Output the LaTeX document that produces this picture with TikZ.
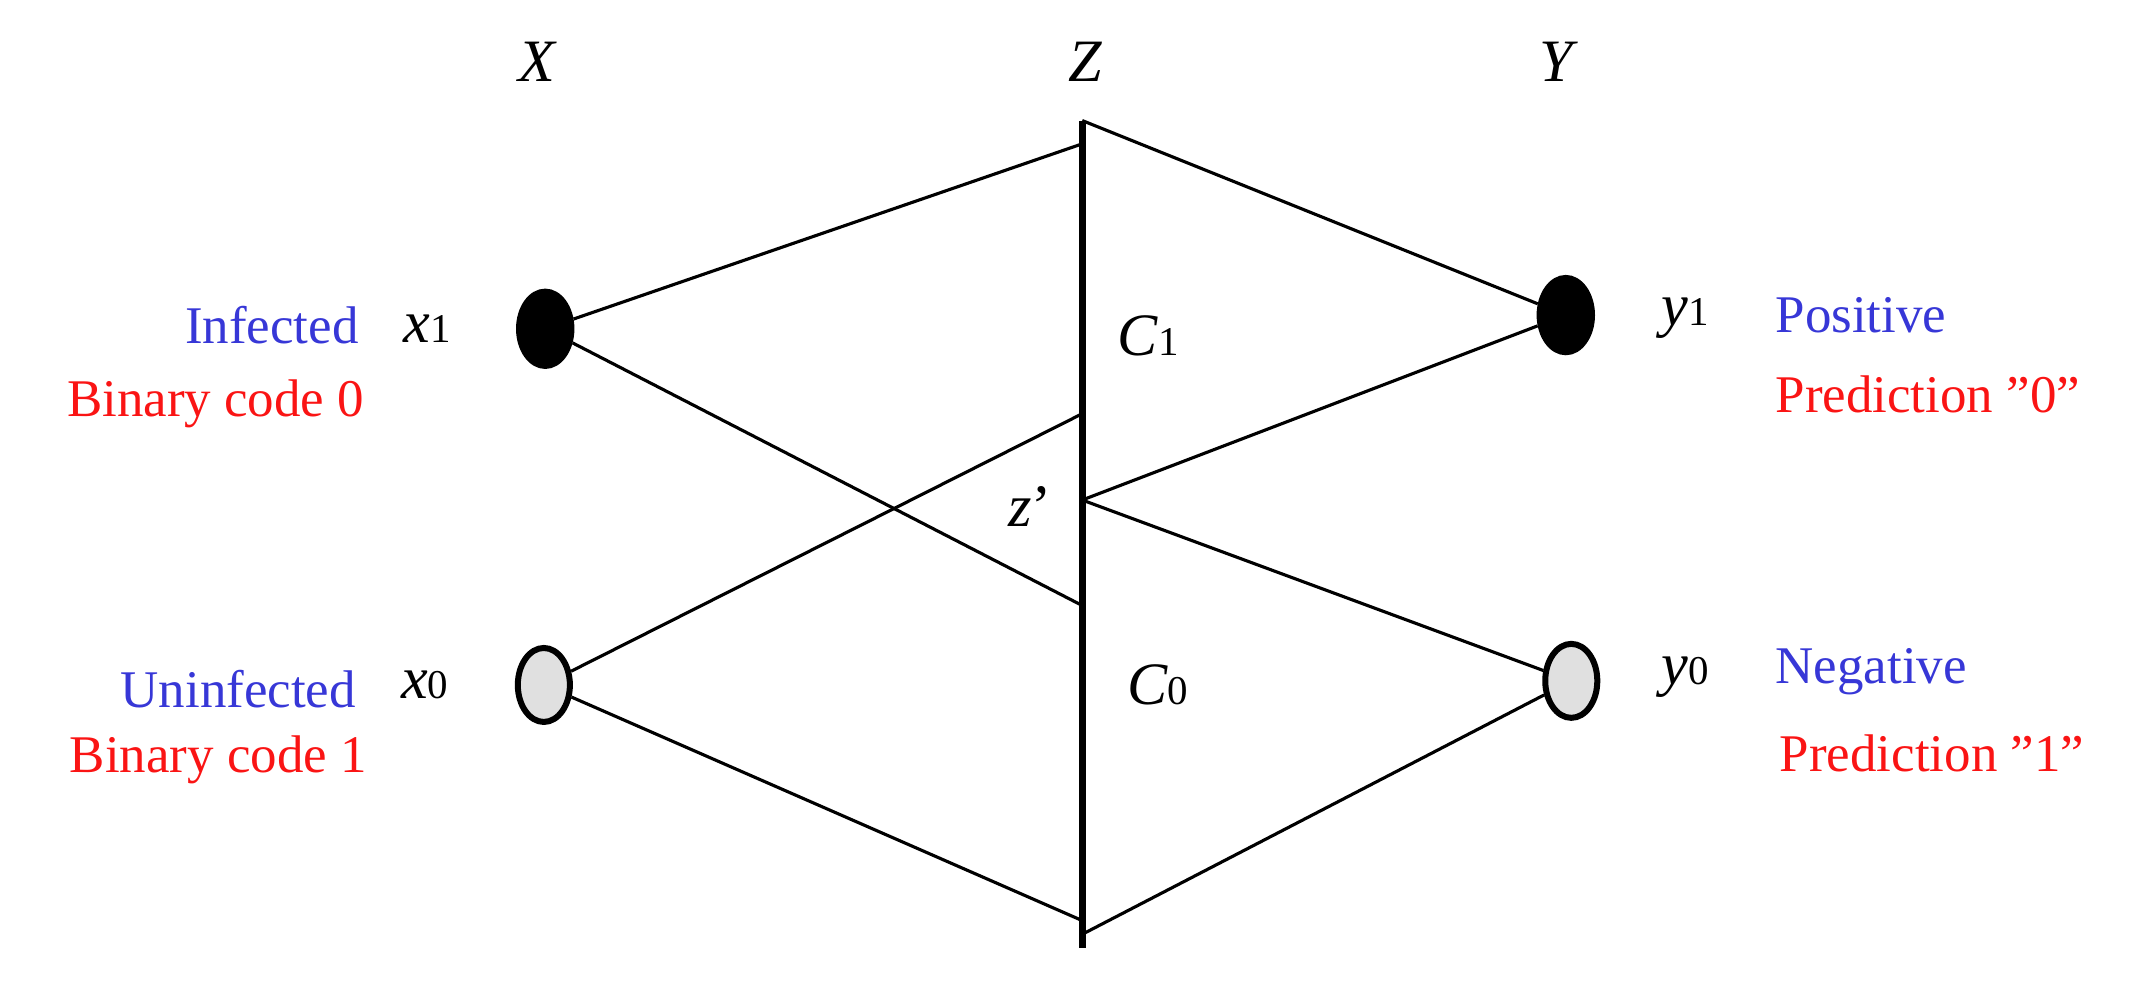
\documentclass[tikz,border=0pt]{standalone}
\usepackage{fontspec}
\setmainfont{Liberation Serif}
\usetikzlibrary{shapes.geometric}
\definecolor{lblue}{RGB}{55,55,215}
\definecolor{lred}{RGB}{250,20,20}
\begin{document}
\begin{tikzpicture}[x=0.02cm,y=-0.02cm,
  ln/.style={line width=1.3pt},
  blk/.style={draw,line width=1.5pt,fill=black,ellipse,minimum width=40*0.02cm,minimum height=56*0.02cm,inner sep=0pt},
  gry/.style={draw,line width=2.5pt,fill=black!12,ellipse,minimum width=38*0.02cm,minimum height=54*0.02cm,inner sep=0pt},
  var/.style={font=\fontsize{25}{27}\selectfont\itshape},
  bl/.style={font=\fontsize{22}{24}\selectfont,text=lblue},
  rd/.style={font=\fontsize{22}{24}\selectfont,text=lred}]
\useasboundingbox (0,0) rectangle (1568,724);
\node[blk] (x1) at (398,240) {};
\node[gry] (x0) at (397,500) {};
\node[blk] (y1) at (1143,230) {};
\node[gry] (y0) at (1147,497) {};
\coordinate (ztop) at (790,88);
\coordinate (zbot) at (790,692);
\coordinate (za) at (790,105);
\coordinate (zb) at (790,442);
\coordinate (zc) at (790,302);
\coordinate (zd) at (790,672);
\coordinate (zp) at (790,365);
\coordinate (ze) at (790,682);
\draw[line width=3pt] (ztop) -- (zbot);
\draw[ln] (x1) -- (za);
\draw[ln] (x1) -- (zb);
\draw[ln] (x0) -- (zc);
\draw[ln] (x0) -- (zd);
\draw[ln] (ztop) -- (y1);
\draw[ln] (zp) -- (y1);
\draw[ln] (zp) -- (y0);
\draw[ln] (ze) -- (y0);
\node[var] (lX) at (392,45) {X};
\node[var] (lZ) at (792,45) {Z};
\node[var] (lY) at (1136,45) {Y};
\node[var] (lc1) at (838,245) {C\textup{\fontsize{17}{18}\selectfont 1}};
\node[var] (lc0) at (845,500) {C\textup{\fontsize{17}{18}\selectfont 0}};
\node[var] (lzp) at (752,370) {z\textup{’}};
\node[var] (lx1) at (312,240) {x\textup{\fontsize{17}{18}\selectfont 1}};
\node[var] (lx0) at (310,500) {x\textup{\fontsize{17}{18}\selectfont 0}};
\node[var] (ly1) at (1230,232) {y\textup{\fontsize{17}{18}\selectfont 1}};
\node[var] (ly0) at (1230,494) {y\textup{\fontsize{17}{18}\selectfont 0}};
\node[bl,anchor=east] (inf) at (268,237) {Infected};
\node[rd,anchor=east] (bc0) at (272,295) {Binary code 0};
\node[bl,anchor=east] (uninf) at (266,503) {Uninfected};
\node[rd,anchor=east] (bc1) at (274,555) {Binary code 1};
\node[bl,anchor=west] (pos) at (1290,230) {Positive};
\node[rd,anchor=west] (p0) at (1290,288) {Prediction \symbol{34}0\symbol{34}};
\node[bl,anchor=west] (neg) at (1290,490) {Negative};
\node[rd,anchor=west] (p1) at (1293,550) {Prediction \symbol{34}1\symbol{34}};
\end{tikzpicture}
\end{document}
